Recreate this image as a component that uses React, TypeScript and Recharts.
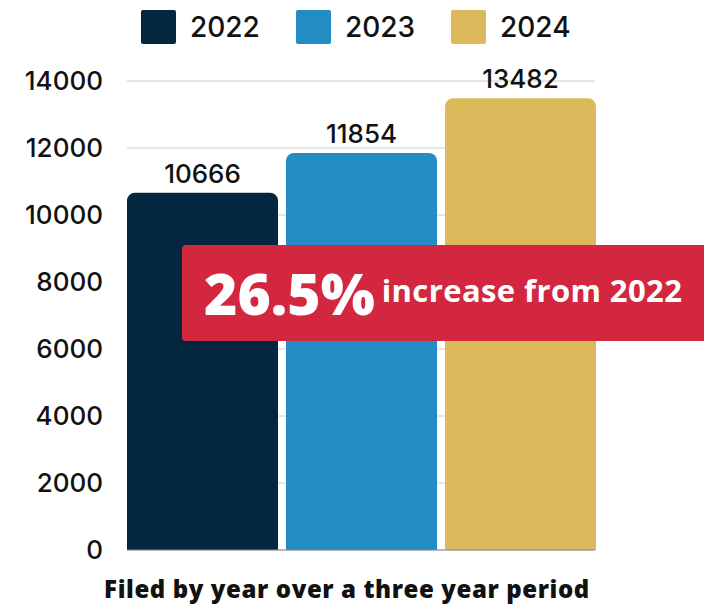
import { BarChart, Bar, XAxis, YAxis, CartesianGrid, Legend, LabelList } from 'recharts'

const YEARS = ['2022', '2023', '2024']
const FILED = [10666, 11854, 13482]
const COLORS = ['#04263F', '#238DC3', '#DCBA5B']
const Y_TICKS = [0, 2000, 4000, 6000, 8000, 10000, 12000, 14000]

const X_TITLE = 'Filed by year over a three year period'
const BANNER_BIG = '26.5%'
const BANNER_SMALL = 'increase from 2022'

const NUM_FONT = 'Inter, "DejaVu Sans", sans-serif'
const TEXT_FONT = '"Open Sans", "Noto Sans", sans-serif'

// one category, one bar per year
const data = [
  YEARS.reduce<Record<string, number | string>>(
    (row, y, i) => {
      row[y] = FILED[i]
      return row
    },
    { name: 'filed' }
  ),
]

function LegendBox() {
  return (
    <div style={{ display: 'flex', paddingLeft: 141 }}>
      {YEARS.map((y, i) => (
        <div key={y} style={{ display: 'flex', alignItems: 'center', width: 155 }}>
          <span
            style={{
              display: 'inline-block',
              width: 35,
              height: 34,
              borderRadius: 2,
              background: COLORS[i],
              marginRight: 14,
            }}
          />
          <span style={{ fontFamily: NUM_FONT, fontSize: 28, fontWeight: 500, color: '#111', lineHeight: '34px' }}>
            {y}
          </span>
        </div>
      ))}
    </div>
  )
}

export default function App() {
  return (
    <div style={{ position: 'absolute', left: 0, top: 0, width: 704, height: 607, background: '#fff' }}>
      <BarChart
        width={704}
        height={607}
        data={data}
        margin={{ top: 81, right: 109, bottom: 0, left: 0 }}
        barCategoryGap={0}
        barGap={8}
      >
        <CartesianGrid vertical={false} stroke="#cccccc" />
        <XAxis
          dataKey="name"
          tick={false}
          tickLine={false}
          height={57}
          axisLine={{ stroke: '#8a8a8a' }}
          label={{
            value: X_TITLE,
            position: 'insideBottom',
            offset: 9,
            dx: -14,
            style: { fontFamily: TEXT_FONT, fontWeight: 800, fontSize: 24, letterSpacing: 0.6, fill: '#111' },
          }}
        />
        <YAxis
          width={127}
          domain={[0, 14000]}
          ticks={Y_TICKS}
          axisLine={false}
          tickLine={false}
          tickSize={0}
          tickMargin={24}
          tick={{ fontFamily: NUM_FONT, fontSize: 26, fontWeight: 500, fill: '#111' }}
        />
        <Legend
          verticalAlign="middle"
          wrapperStyle={{ top: 10, left: 0, width: 704 }}
          content={() => <LegendBox />}
        />
        {YEARS.map((y, i) => (
          <Bar key={y} dataKey={y} fill={COLORS[i]} radius={[8, 8, 0, 0]} isAnimationActive={false}>
            <LabelList
              dataKey={y}
              position="top"
              offset={10}
              style={{ fontFamily: NUM_FONT, fontSize: 26, fontWeight: 500, fill: '#111' }}
            />
          </Bar>
        ))}
      </BarChart>
      <div
        style={{
          position: 'absolute',
          left: 182,
          top: 245,
          width: 522,
          height: 96,
          background: '#D3273F',
          borderRadius: '4px 0 0 4px',
          display: 'flex',
          alignItems: 'center',
          paddingLeft: 22,
          boxSizing: 'border-box',
          color: '#fff',
          fontFamily: TEXT_FONT,
        }}
      >
        <span style={{ fontSize: 57, fontWeight: 800, lineHeight: 1 }}>{BANNER_BIG}</span>
        <span style={{ fontSize: 31, fontWeight: 700, lineHeight: 1, marginLeft: 7, marginTop: -6, letterSpacing: 0.4 }}>
          {BANNER_SMALL}
        </span>
      </div>
    </div>
  )
}
